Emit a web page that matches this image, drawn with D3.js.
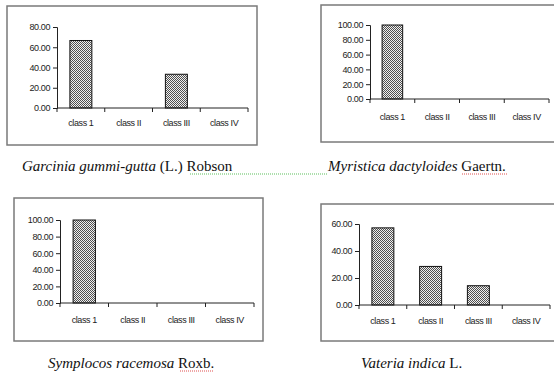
<!DOCTYPE html>
<html>
<head>
<meta charset="utf-8">
<script src="https://d3js.org/d3.v7.min.js"></script>
<style>
  body { margin: 0; background: #fff; }
  .tick text { font-family: "Liberation Sans", Arial, sans-serif; font-size: 9px; letter-spacing: -0.4px; fill: #222; }
  .cap { font-family: "Liberation Serif", "Times New Roman", serif; font-size: 15px; fill: #111; }
</style>
</head>
<body>
<svg width="554" height="374"></svg>
<script>
// categories shared by all four charts
const classes = ["class 1", "class II", "class III", "class IV"];

// values (%) per species
const garciniaValues = [66.67, 0, 33.33, 0];
const myristicaValues = [100, 0, 0, 0];
const symplocosValues = [100, 0, 0, 0];
const vateriaValues = [57.14, 28.57, 14.29, 0];

// y-axis tick values
const ticks80 = [0, 20, 40, 60, 80];
const ticks100 = [0, 20, 40, 60, 80, 100];
const ticks60 = [0, 20, 40, 60];

const svg = d3.select("svg");

// checkered fill like the Excel pattern
const pat = svg.append("defs").append("pattern")
  .attr("id", "chk")
  .attr("width", 2).attr("height", 2)
  .attr("patternUnits", "userSpaceOnUse");
pat.append("rect").attr("width", 2).attr("height", 2).attr("fill", "#f0f0f0");
pat.append("rect").attr("width", 1).attr("height", 1).attr("fill", "#505050");
pat.append("rect").attr("x", 1).attr("y", 1).attr("width", 1).attr("height", 1).attr("fill", "#505050");

function panel(opt) {
  // outer chart frame
  svg.append("rect")
    .attr("x", opt.frame[0]).attr("y", opt.frame[1])
    .attr("width", opt.frame[2] - opt.frame[0])
    .attr("height", opt.frame[3] - opt.frame[1])
    .attr("fill", "#fff")
    .attr("stroke", "#7a7a7a")
    .attr("stroke-width", 1.5);

  const x = d3.scaleBand().domain(classes).range([opt.x0, opt.x1])
    .paddingInner(0.54).paddingOuter(0.27);
  const y = d3.scaleLinear().domain([0, opt.max]).range([opt.y0, opt.y1]);

  const g = svg.append("g");

  g.selectAll(".bar")
    .data(opt.values)
    .join("rect")
    .attr("x", (d, i) => x(classes[i]))
    .attr("y", d => y(d))
    .attr("width", x.bandwidth())
    .attr("height", d => y(0) - y(d))
    .attr("fill", "url(#chk)")
    .attr("stroke", "#111")
    .attr("stroke-width", d => d > 0 ? 1 : 0);

  const ya = g.append("g")
    .attr("transform", `translate(${opt.x0},0)`)
    .call(d3.axisLeft(y).tickValues(opt.ticks).tickFormat(d3.format(".2f")).tickSize(4).tickPadding(3));
  ya.select(".domain").attr("stroke", "#222");
  ya.selectAll(".tick line").attr("stroke", "#222");

  // category axis: ticks on the band boundaries, labels in the middle
  const bx = d3.scaleLinear().domain([0, classes.length]).range([opt.x0, opt.x1]);
  const xa = g.append("g").attr("transform", `translate(0,${opt.y0})`);
  xa.append("path")
    .attr("d", `M${opt.x0},0H${opt.x1}`)
    .attr("stroke", "#222").attr("fill", "none");
  xa.selectAll("line")
    .data(d3.range(classes.length + 1))
    .join("line")
    .attr("x1", d => bx(d)).attr("x2", d => bx(d))
    .attr("y1", 0).attr("y2", 4)
    .attr("stroke", "#222");
  xa.selectAll("text")
    .data(classes)
    .join("text")
    .attr("x", d => x(d) + x.bandwidth() / 2)
    .attr("y", opt.labY - opt.y0)
    .attr("text-anchor", "middle")
    .style("font-family", "'Liberation Sans', Arial, sans-serif")
    .style("font-size", "9px")
    .style("letter-spacing", "-0.4px")
    .attr("fill", "#222")
    .text(d => d);
}

panel({ frame: [7, 6, 257, 145], x0: 57, x1: 248, y0: 108, y1: 27, max: 80, ticks: ticks80, values: garciniaValues, labY: 126 });
panel({ frame: [321, 5, 562, 142], x0: 370, x1: 549, y0: 99, y1: 25, max: 100, ticks: ticks100, values: myristicaValues, labY: 120 });
panel({ frame: [14, 198, 263, 341], x0: 60, x1: 254, y0: 303, y1: 220, max: 100, ticks: ticks100, values: symplocosValues, labY: 323 });
panel({ frame: [321, 204, 562, 341], x0: 359, x1: 550, y0: 305, y1: 224, max: 60, ticks: ticks60, values: vateriaValues, labY: 324 });

// captions
function caption(xc, yb, italic, plain) {
  const t = svg.append("text").attr("class", "cap").attr("x", xc).attr("y", yb);
  t.append("tspan").style("font-style", "italic").text(italic);
  t.append("tspan").text(plain);
}
caption(22, 171, "Garcinia gummi-gutta", " (L.) Robson");
caption(328, 171, "Myristica dactyloides", " Gaertn.");
caption(48, 368, "Symplocos racemosa", " Roxb.");
caption(361, 368, "Vateria indica", " L.");

// spell-check squiggles
function squiggle(xa, xb, yy, col) {
  svg.append("line")
    .attr("x1", xa).attr("x2", xb).attr("y1", yy).attr("y2", yy)
    .attr("stroke", col).attr("stroke-width", 1.2)
    .attr("stroke-dasharray", "1,1");
}
squiggle(190, 327, 174, "#5cbf5c");
squiggle(462, 508, 174, "#e05050");
squiggle(180, 214, 371, "#e05050");
</script>
</body>
</html>
